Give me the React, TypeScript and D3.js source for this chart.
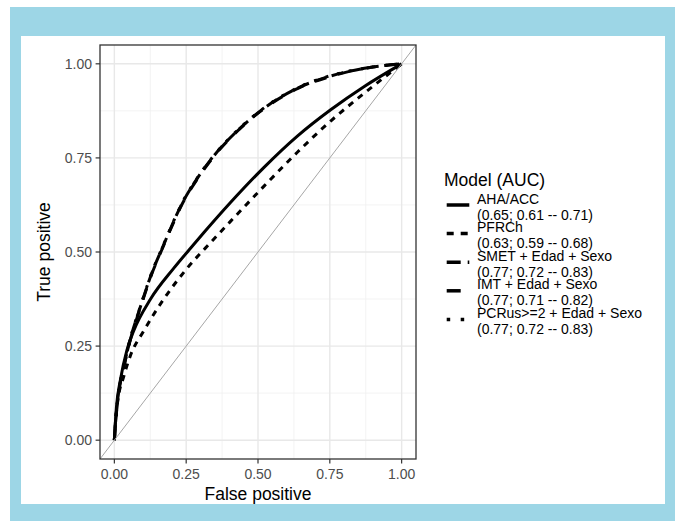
import React from "react";
import * as d3 from "d3";

// ---- data ----
const MODEL_NAMES = ["AHA/ACC", "PFRCh", "SMET + Edad + Sexo", "IMT + Edad + Sexo", "PCRus>=2 + Edad + Sexo"];
const MODEL_AUC = ["(0.65; 0.61 -- 0.71)", "(0.63; 0.59 -- 0.68)", "(0.77; 0.72 -- 0.83)", "(0.77; 0.71 -- 0.82)", "(0.77; 0.72 -- 0.83)"];
const LINETYPES = ["solid", "22", "42", "44", "13"];

const AHA_FPR = [0, 0.003, 0.007, 0.021, 0.044, 0.067, 0.126, 0.207, 0.265, 0.311, 0.405, 0.521, 0.637, 0.753, 0.87, 1];
const AHA_TPR = [0, 0.04, 0.085, 0.16, 0.24, 0.29, 0.375, 0.457, 0.51, 0.551, 0.632, 0.725, 0.808, 0.878, 0.94, 1];

const PFRCH_FPR = [0, 0.004, 0.012, 0.033, 0.056, 0.102, 0.172, 0.248, 0.341, 0.405, 0.521, 0.637, 0.753, 0.87, 1];
const PFRCH_TPR = [0, 0.05, 0.105, 0.17, 0.225, 0.29, 0.375, 0.452, 0.53, 0.582, 0.675, 0.765, 0.848, 0.922, 1];

const SMET_FPR = [0, 0.003, 0.012, 0.033, 0.056, 0.091, 0.126, 0.172, 0.242, 0.288, 0.346, 0.428, 0.521, 0.637, 0.75, 0.87, 1];
const SMET_TPR = [0, 0.035, 0.11, 0.195, 0.27, 0.355, 0.435, 0.52, 0.638, 0.695, 0.755, 0.822, 0.882, 0.935, 0.967, 0.988, 1];

const IMT_FPR = [0, 0.003, 0.012, 0.033, 0.056, 0.091, 0.126, 0.172, 0.242, 0.288, 0.346, 0.428, 0.521, 0.637, 0.75, 0.87, 1];
const IMT_TPR = [0, 0.034, 0.108, 0.193, 0.268, 0.353, 0.433, 0.518, 0.636, 0.693, 0.754, 0.821, 0.881, 0.934, 0.966, 0.988, 1];

const PCR_FPR = [0, 0.003, 0.012, 0.033, 0.056, 0.091, 0.126, 0.172, 0.242, 0.288, 0.346, 0.428, 0.521, 0.637, 0.75, 0.87, 1];
const PCR_TPR = [0, 0.036, 0.111, 0.196, 0.271, 0.356, 0.436, 0.521, 0.639, 0.696, 0.756, 0.823, 0.883, 0.936, 0.968, 0.988, 1];

const SERIES_FPR = [AHA_FPR, PFRCH_FPR, SMET_FPR, IMT_FPR, PCR_FPR];
const SERIES_TPR = [AHA_TPR, PFRCH_TPR, SMET_TPR, IMT_TPR, PCR_TPR];

const MAJOR_TICKS = [0, 0.25, 0.5, 0.75, 1];
const MINOR_TICKS = [0.125, 0.375, 0.625, 0.875];
const TICK_LABELS = ["0.00", "0.25", "0.50", "0.75", "1.00"];

// ---- layout ----
const W = 681, H = 527;
const P = { left: 100, right: 416, top: 45, bottom: 459 };
const FONT = "'Liberation Sans', Arial, Helvetica, sans-serif";

function dash(lt: string, k: number) {
  if (lt === "solid") return undefined;
  return lt.split("").map((c) => parseInt(c, 16) * k).join(",");
}

export default function App() {
  const x = d3.scaleLinear().domain([-0.05, 1.05]).range([P.left, P.right]);
  const y = d3.scaleLinear().domain([-0.05, 1.05]).range([P.bottom, P.top]);
  const line = d3
    .line<[number, number]>()
    .x((d) => x(d[0]))
    .y((d) => y(d[1]))
    .curve(d3.curveMonotoneX);

  const legendX = 446.7, keyW = 22.6, textX = 477;
  const keyY = (i: number) => 205 + 28.6 * i;

  return (
    <svg
      width={W}
      height={H}
      style={{ position: "absolute", left: 0, top: 0, fontFamily: FONT }}
    >
      <rect x={0} y={0} width={W} height={H} fill="#ffffff" />
      <rect x={10} y={7} width={665} height={514} fill="#9dd6e6" />
      <rect x={21} y={36} width={644} height={468} fill="#ffffff" />

      {/* grid */}
      {MINOR_TICKS.map((t) => (
        <g key={"m" + t}>
          <line x1={x(t)} x2={x(t)} y1={P.top} y2={P.bottom} stroke="#f0f0f0" strokeWidth={0.8} />
          <line x1={P.left} x2={P.right} y1={y(t)} y2={y(t)} stroke="#f0f0f0" strokeWidth={0.8} />
        </g>
      ))}
      {MAJOR_TICKS.map((t) => (
        <g key={"M" + t}>
          <line x1={x(t)} x2={x(t)} y1={P.top} y2={P.bottom} stroke="#e8e8e8" strokeWidth={1.4} />
          <line x1={P.left} x2={P.right} y1={y(t)} y2={y(t)} stroke="#e8e8e8" strokeWidth={1.4} />
        </g>
      ))}

      {/* curves */}
      {SERIES_FPR.map((fpr, i) => {
        const pts = fpr.map((v, j) => [v, SERIES_TPR[i][j]] as [number, number]);
        return (
          <path
            key={"c" + i}
            d={line(pts) || ""}
            fill="none"
            stroke="#000"
            strokeWidth={3}
            strokeDasharray={dash(LINETYPES[i], 3)}
          />
        );
      })}

      {/* diagonal reference */}
      <line x1={x(-0.05)} y1={y(-0.05)} x2={x(1.05)} y2={y(1.05)} stroke="#a6a6a6" strokeWidth={1} />

      {/* panel border */}
      <rect x={P.left} y={P.top} width={P.right - P.left} height={P.bottom - P.top} fill="none" stroke="#333333" strokeWidth={1.3} />

      {/* axes ticks & labels */}
      {MAJOR_TICKS.map((t, i) => (
        <g key={"xt" + t}>
          <line x1={x(t)} x2={x(t)} y1={P.bottom} y2={P.bottom + 4.4} stroke="#333" strokeWidth={1.2} />
          <text x={x(t)} y={479} textAnchor="middle" fontSize={14} fill="#4d4d4d">{TICK_LABELS[i]}</text>
          <line x1={P.left - 4.4} x2={P.left} y1={y(t)} y2={y(t)} stroke="#333" strokeWidth={1.2} />
          <text x={92} y={y(t)} dy="0.35em" textAnchor="end" fontSize={14} fill="#4d4d4d">{TICK_LABELS[i]}</text>
        </g>
      ))}

      <text x={(P.left + P.right) / 2} y={500} textAnchor="middle" fontSize={17.5} fill="#000">False positive</text>
      <text transform={`translate(50,${(P.top + P.bottom) / 2}) rotate(-90)`} textAnchor="middle" fontSize={17.5} fill="#000">True positive</text>

      {/* legend */}
      <text x={444} y={185.7} fontSize={17.5} fill="#000">Model (AUC)</text>
      {MODEL_NAMES.map((name, i) => (
        <g key={"l" + i}>
          <line
            x1={legendX}
            x2={legendX + keyW}
            y1={keyY(i)}
            y2={keyY(i)}
            stroke="#000"
            strokeWidth={3.5}
            strokeDasharray={dash(LINETYPES[i], 3.5)}
          />
          <text x={textX} y={keyY(i) - 1.5} fontSize={14} fill="#000">{name}</text>
          <text x={textX} y={keyY(i) + 14.5} fontSize={14} fill="#000">{MODEL_AUC[i]}</text>
        </g>
      ))}
    </svg>
  );
}
